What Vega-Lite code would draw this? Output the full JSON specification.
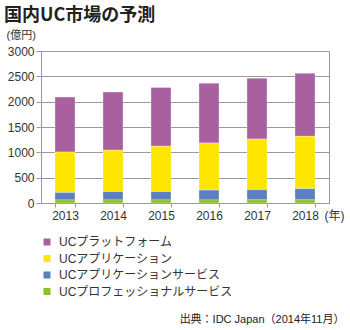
{
  "$schema": "https://vega.github.io/schema/vega-lite/v6.json",
  "width": 288,
  "height": 152,
  "autosize": {"type": "none"},
  "padding": {"left": 41, "top": 51, "right": 21, "bottom": 127},
  "background": "white",
  "config": {
    "font": "Liberation Sans, Noto Sans CJK JP",
    "view": {"stroke": "#999999", "strokeWidth": 1},
    "axis": {"labelColor": "#333333", "titleColor": "#333333", "labelFontSize": 12, "domainColor": "#999999", "tickColor": "#999999", "gridColor": "#999999", "labelFont": "Liberation Sans, Noto Sans CJK JP", "titleFont": "Liberation Sans, Noto Sans CJK JP"}
  },
  "title": {
    "text": "国内UC市場の予測",
    "anchor": "start",
    "frame": "group",
    "dx": -37,
    "offset": 4,
    "fontSize": 18,
    "fontWeight": "bold",
    "color": "#222222",
    "font": "Noto Sans CJK JP"
  },
  "data": {
    "values": [
      {"year": "2013", "series": "UCプラットフォーム", "k": 4, "value": 1085},
      {"year": "2013", "series": "UCアプリケーション", "k": 3, "value": 800},
      {"year": "2013", "series": "UCアプリケーションサービス", "k": 2, "value": 145},
      {"year": "2013", "series": "UCプロフェッショナルサービス", "k": 1, "value": 60},
      {"year": "2014", "series": "UCプラットフォーム", "k": 4, "value": 1150},
      {"year": "2014", "series": "UCアプリケーション", "k": 3, "value": 815},
      {"year": "2014", "series": "UCアプリケーションサービス", "k": 2, "value": 165},
      {"year": "2014", "series": "UCプロフェッショナルサービス", "k": 1, "value": 60},
      {"year": "2015", "series": "UCプラットフォーム", "k": 4, "value": 1160},
      {"year": "2015", "series": "UCアプリケーション", "k": 3, "value": 895},
      {"year": "2015", "series": "UCアプリケーションサービス", "k": 2, "value": 165},
      {"year": "2015", "series": "UCプロフェッショナルサービス", "k": 1, "value": 60},
      {"year": "2016", "series": "UCプラットフォーム", "k": 4, "value": 1180},
      {"year": "2016", "series": "UCアプリケーション", "k": 3, "value": 930},
      {"year": "2016", "series": "UCアプリケーションサービス", "k": 2, "value": 195},
      {"year": "2016", "series": "UCプロフェッショナルサービス", "k": 1, "value": 60},
      {"year": "2017", "series": "UCプラットフォーム", "k": 4, "value": 1198},
      {"year": "2017", "series": "UCアプリケーション", "k": 3, "value": 1000},
      {"year": "2017", "series": "UCアプリケーションサービス", "k": 2, "value": 200},
      {"year": "2017", "series": "UCプロフェッショナルサービス", "k": 1, "value": 62},
      {"year": "2018", "series": "UCプラットフォーム", "k": 4, "value": 1243},
      {"year": "2018", "series": "UCアプリケーション", "k": 3, "value": 1035},
      {"year": "2018", "series": "UCアプリケーションサービス", "k": 2, "value": 220},
      {"year": "2018", "series": "UCプロフェッショナルサービス", "k": 1, "value": 62}
    ]
  },
  "layer": [
    {
      "mark": {"type": "bar", "stroke": "white", "strokeWidth": 0.5, "strokeOpacity": 0.6},
      "encoding": {
        "x": {
          "field": "year", "type": "ordinal",
          "scale": {"paddingInner": 0.583, "paddingOuter": 0.2915},
          "axis": {
            "title": "(年)", "titleAngle": 0, "titleAlign": "left", "titleBaseline": "middle",
            "titleX": 283, "titleY": 12, "titleFontSize": 12, "titleFontWeight": "normal",
            "labelAngle": 0, "tickBand": "extent", "tickSize": 4, "labelPadding": 3, "grid": false
          }
        },
        "y": {
          "field": "value", "type": "quantitative", "stack": "zero",
          "scale": {"domain": [0, 3000], "nice": false},
          "axis": {
            "values": [0, 500, 1000, 1500, 2000, 2500, 3000], "format": "d",
            "title": "(億円)", "titleAngle": 0, "titleAlign": "left", "titleBaseline": "middle",
            "titleX": -35, "titleY": -16, "titleFontSize": 11, "titleFontWeight": "normal",
            "tickSize": 5, "labelPadding": 2, "grid": true
          }
        },
        "color": {
          "field": "series", "type": "nominal",
          "scale": {
            "domain": ["UCプラットフォーム", "UCアプリケーション", "UCアプリケーションサービス", "UCプロフェッショナルサービス"],
            "range": ["#A8609F", "#FFE600", "#5B7FC1", "#8CC121"]
          },
          "legend": {
            "orient": "none", "legendX": 0, "legendY": 185, "title": null,
            "symbolType": "square", "symbolSize": 49, "symbolStrokeWidth": 0,
            "labelFontSize": 12, "labelColor": "#333333", "labelOffset": 6,
            "rowPadding": 4.5, "padding": 0, "labelLimit": 300,
            "labelFont": "Liberation Sans, Noto Sans CJK JP"
          }
        },
        "order": {"field": "k", "type": "quantitative"}
      }
    },
    {
      "mark": {"type": "rule", "strokeOpacity": 0},
      "encoding": {
        "y": {
          "datum": 0, "type": "quantitative",
          "axis": {
            "orient": "right", "labels": false, "ticks": false, "domain": false, "grid": false,
            "title": "出典：IDC Japan（2014年11月）", "titleAngle": 0, "titleAlign": "right",
            "titleBaseline": "middle", "titleX": 15, "titleY": 268, "titleFontSize": 11,
            "titleFontWeight": "normal", "titleColor": "#222222"
          }
        }
      }
    }
  ],
  "resolve": {"axis": {"y": "independent"}}
}
